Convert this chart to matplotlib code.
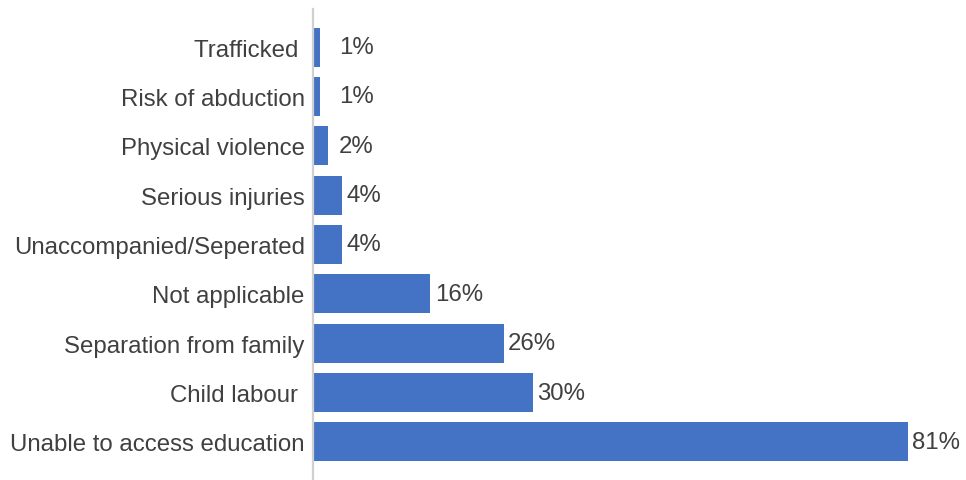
import matplotlib.pyplot as plt

plt.rcParams['font.family'] = ['Liberation Sans', 'DejaVu Sans']

categories = ['Unable to access education', 'Child labour ', 'Separation from family',
              'Not applicable', 'Unaccompanied/Seperated', 'Serious injuries',
              'Physical violence', 'Risk of abduction', 'Trafficked ']
values = [81, 30, 26, 16, 4, 4, 2, 1, 1]
labels = ['81%', '30%', '26%', '16%', '4%', '4%', '2%', '1%', '1%']

fig = plt.figure(figsize=(9.66, 4.81), dpi=100)
ax = fig.add_axes([313 / 966, 0.0, (937 - 313) / 966, 1 - 10 / 481])

ypos = list(range(len(categories)))
ax.barh(ypos, values, height=0.79, color='#4472C4')

# small bars get their label pushed out a bit
for y, v, lab in zip(ypos, values, labels):
    ax.annotate(lab, (max(v, 3.0), y), xytext=(3, 0), textcoords='offset points',
                va='center', ha='left', fontsize=17.3, color='#404040')

ax.set_yticks(ypos)
ax.set_yticklabels(categories, fontsize=17.3, color='#404040')
ax.tick_params(axis='y', length=0, pad=6)
ax.set_xticks([])
ax.set_xlim(0, 85)
ax.set_ylim(-0.77, 8.77)

for s in ['top', 'right', 'bottom']:
    ax.spines[s].set_visible(False)
ax.spines['left'].set_color('#D0D0D0')
ax.spines['left'].set_linewidth(1.6)

fig.savefig('out.png', dpi=100)
